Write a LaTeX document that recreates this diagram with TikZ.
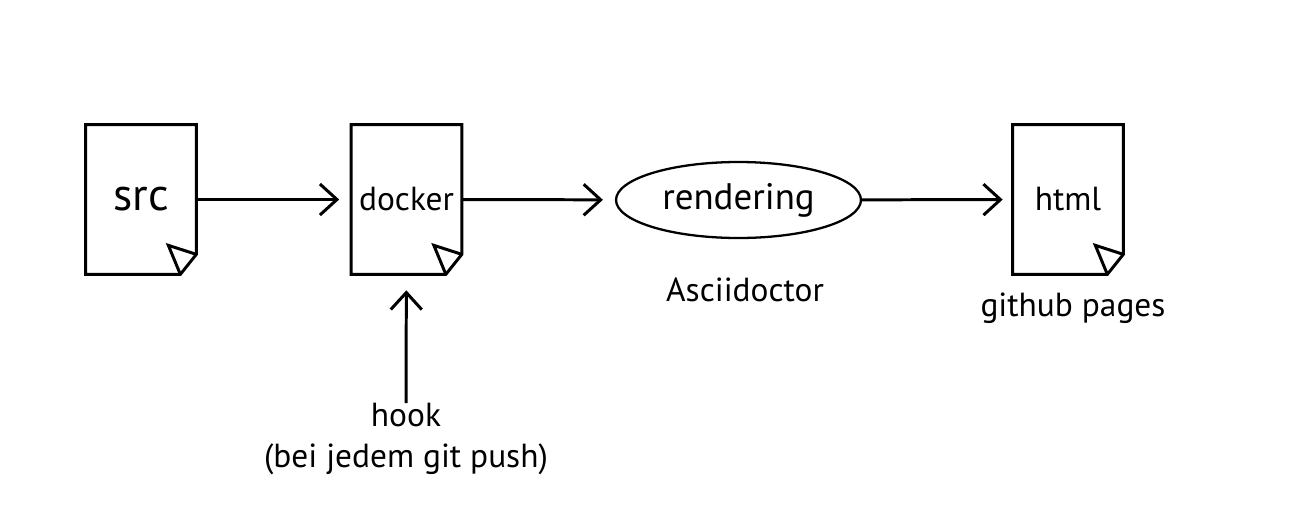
\documentclass[tikz,border=0pt]{standalone}
\usepackage{fontspec}
\setmainfont{PT Sans}
\usepackage{tikz}
\usetikzlibrary{arrows.meta}
\usetikzlibrary{calc}
\usetikzlibrary{shapes.geometric}
\usetikzlibrary{positioning}

\tikzset{
  page/.style={rectangle,inner sep=0pt,minimum width=2.2cm,minimum height=2.98cm,font=\fontsize{19}{21}\selectfont},
  pageline/.style={line width=1.7pt,line join=miter},
  flow/.style={line width=1.7pt,-{Straight Barb[length=0.34cm,width=0.62cm,line width=1.7pt]}},
  caption/.style={inner sep=0pt,font=\fontsize{19}{23}\selectfont,align=center}
}

\newcommand{\docpage}[1]{
  \draw [pageline] (#1.north west) -- (#1.north east) -- ([yshift=0.4cm]#1.south east)
    -- ([xshift=-0.32cm]#1.south east) -- (#1.south west) -- cycle;
  \draw [pageline] ([xshift=-0.32cm]#1.south east) -- ([xshift=-0.56cm,yshift=0.58cm]#1.south east)
    -- ([yshift=0.4cm]#1.south east);
}

\begin{document}
\begin{tikzpicture}[x=0.02cm,y=-0.02cm]

  \useasboundingbox (0,0) rectangle (1299,518);

  \node [page,font=\fontsize{26}{28}\selectfont] (src) at (141,199.5) {src};
  \node [page] (docker) at (406.5,199.5) {docker};
  \node [draw,ellipse,line width=1.3pt,inner sep=0pt,minimum width=4.9cm,minimum height=1.52cm,
         font=\fontsize{21}{23}\selectfont] (rendering) at (738.5,200) {rendering};
  \node [page] (html) at (1068,199.5) {html};

  \docpage{src}
  \docpage{docker}
  \docpage{html}

  \node [caption] (asciidoctor) at (745,290) {Asciidoctor};
  \node [caption] (pages) at (1073,308) {github pages};
  \node [caption,anchor=north] (hook) at (406,403) {hook\\(bei jedem git push)};

  \path [draw,flow]
    (src)       edge [shorten >=0.24cm] (docker)
    (docker)    edge [shorten >=0.24cm] (rendering)
    (rendering) edge [shorten >=0.2cm]  (html)
    (hook)      edge [shorten >=0.32cm] (docker);

\end{tikzpicture}
\end{document}
